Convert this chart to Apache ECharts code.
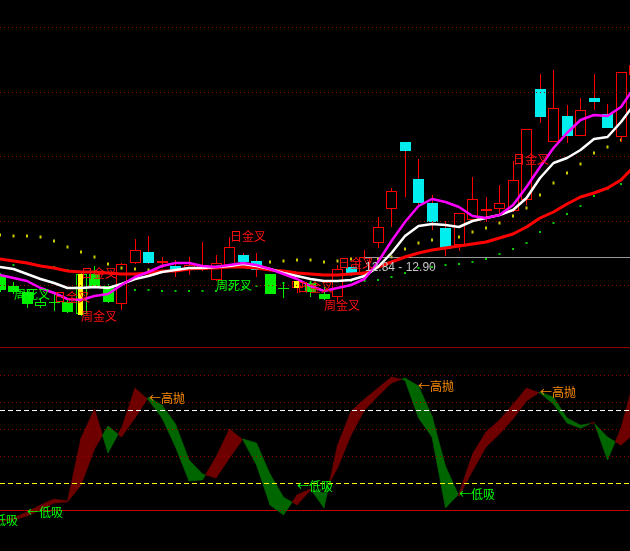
<!DOCTYPE html>
<html>
<head>
<meta charset="utf-8">
<title>K线 高抛低吸</title>
<script src="https://cdn.jsdelivr.net/npm/echarts@6.0.0/dist/echarts.min.js"></script>
<style>
  html, body { margin: 0; padding: 0; background: #000; }
  #chart { width: 630px; height: 551px; }
</style>
</head>
<body>
<div id="chart"></div>
<script>
// 交易日序号
const days = Array.from({ length: 48 }, (_, i) => String(i + 1));

// K线 [开, 收, 低, 高]
const kline = [
  [12.69, 12.54, 12.52, 12.71], [12.58, 12.52, 12.50, 12.62], [12.52, 12.40, 12.36, 12.55],
  [12.38, 12.42, 12.36, 12.46], [12.42, 12.41, 12.33, 12.51], [12.42, 12.32, 12.31, 12.46],
  [12.30, 12.70, 12.28, 12.72], [12.70, 12.58, 12.57, 12.78], [12.58, 12.42, 12.41, 12.60],
  [12.40, 12.80, 12.34, 12.81], [12.81, 12.94, 12.80, 13.05], [12.92, 12.81, 12.80, 13.08],
  [12.81, 12.83, 12.76, 12.87], [12.78, 12.74, 12.67, 12.84], [12.74, 12.79, 12.69, 12.87],
  [12.74, 12.79, 12.73, 13.02], [12.64, 12.81, 12.63, 12.89], [12.77, 12.97, 12.76, 13.07],
  [12.89, 12.82, 12.76, 12.91], [12.83, 12.74, 12.67, 12.91], [12.70, 12.50, 12.50, 12.70],
  [12.56, 12.55, 12.46, 12.62], [12.56, 12.63, 12.51, 12.63], [12.61, 12.52, 12.47, 12.63],
  [12.50, 12.45, 12.44, 12.57], [12.47, 12.75, 12.42, 12.79], [12.77, 12.70, 12.68, 12.79],
  [12.69, 12.87, 12.68, 12.94], [13.01, 13.17, 12.96, 13.27], [13.35, 13.53, 13.17, 13.56],
  [14.02, 13.93, 13.47, 14.02], [13.65, 13.41, 13.39, 13.85], [13.41, 13.22, 13.14, 13.49],
  [13.16, 12.95, 12.88, 13.23], [12.99, 13.31, 12.93, 13.31], [13.24, 13.45, 13.23, 13.67],
  [13.33, 13.35, 13.22, 13.47], [13.35, 13.41, 13.29, 13.59], [13.33, 13.64, 13.32, 13.83],
  [13.44, 14.15, 13.39, 14.15], [14.55, 14.27, 14.21, 14.70], [14.02, 14.36, 14.02, 14.74],
  [14.28, 14.08, 14.01, 14.39], [14.08, 14.34, 14.08, 14.46], [14.46, 14.42, 14.34, 14.70],
  [14.30, 14.16, 14.16, 14.40], [14.07, 14.72, 14.02, 14.72], [14.69, 14.79, 14.69, 14.79]
];

// 1 = 弱势, 绿色K线
const weakDays = [1, 1, 1, 1, 1, 1, 1, 1, 1, 0, 0, 0, 0, 0, 0, 0, 0, 0, 0, 0, 1, 1, 0, 1,
  1, 0, 0, 0, 0, 0, 0, 0, 0, 0, 0, 0, 0, 0, 0, 0, 0, 0, 0, 0, 0, 0, 0, 0];

// 黄色信号柱 [日序, 上, 下]
const yellowSticks = [[6, 12.70, 12.29], [22, 12.63, 12.56]];

const maRed = [12.85, 12.83, 12.81, 12.78, 12.76, 12.73, 12.72, 12.72, 12.71, 12.70, 12.70, 12.71,
  12.73, 12.73, 12.75, 12.76, 12.76, 12.77, 12.77, 12.76, 12.74, 12.73, 12.71, 12.70,
  12.69, 12.69, 12.70, 12.71, 12.77, 12.82, 12.87, 12.91, 12.94, 12.96, 12.98, 13.00,
  13.02, 13.06, 13.10, 13.17, 13.26, 13.32, 13.40, 13.47, 13.51, 13.56, 13.64, 13.78];
const maWhite = [12.77, 12.75, 12.70, 12.65, 12.61, 12.56, 12.56, 12.57, 12.56, 12.60, 12.65, 12.68,
  12.72, 12.74, 12.76, 12.76, 12.77, 12.78, 12.80, 12.78, 12.75, 12.71, 12.68, 12.65,
  12.63, 12.63, 12.64, 12.68, 12.77, 12.91, 13.08, 13.18, 13.20, 13.19, 13.17, 13.23,
  13.26, 13.29, 13.34, 13.46, 13.66, 13.81, 13.86, 13.94, 14.05, 14.07, 14.22, 14.40];
const maPink = [12.69, 12.66, 12.63, 12.56, 12.51, 12.45, 12.44, 12.48, 12.50, 12.59, 12.67, 12.72,
  12.78, 12.81, 12.81, 12.78, 12.77, 12.79, 12.81, 12.79, 12.75, 12.70, 12.65, 12.58,
  12.53, 12.56, 12.59, 12.65, 12.82, 13.03, 13.22, 13.38, 13.45, 13.42, 13.37, 13.28,
  13.26, 13.29, 13.39, 13.57, 13.77, 13.96, 14.11, 14.24, 14.29, 14.28, 14.37, 14.57];

// 点状压力/支撑
const dotYellow = [13.09, 13.08, 13.08, 13.07, 13.03, 12.97, 12.92, 12.87, 12.80, 12.76, 12.75, 12.74,
  null, null, null, null, null, null, null, null, 12.82, 12.83, 12.84, 12.84,
  12.82, 12.83, 12.85, null, 12.85, 12.87, 12.95, 13.01, 13.04, 13.06, 13.07, 13.12,
  13.16, 13.21, 13.28, 13.36, 13.49, 13.61, 13.71, 13.80, 13.91, 13.97, 14.04, null];
const dotGreen = [null, 12.79, null, 12.78, 12.77, 12.74, null, null, null, null, 12.54, 12.54,
  12.53, 12.53, 12.53, 12.53, 12.53, 12.55, 12.57, 12.58, 12.60, 12.61, 12.62, 12.62,
  12.62, 12.63, 12.63, 12.63, 12.64, 12.67, 12.71, 12.76, 12.77, 12.79, 12.80, 12.82,
  12.85, 12.90, 12.95, 13.01, 13.12, 13.21, 13.30, 13.38, 13.48, 13.55, 13.60, null];

const priceGrid = [15.17, 14.52, 13.88, 13.23, 12.59];
const priceNow = 12.87;
const priceNowFrom = 27;

// 副图 高抛低吸 两条线
const ribbonFast = [-3.8, -3.0, -0.8, 1.8, 4.0, 3.3, 26.6, 37.4, 21.1, 30.3, 45.2, 40.7,
  34.1, 23.3, 10.7, 11.1, 19.6, 30.0, 25.9, 16.6, 1.8, -1.9, 5.5, 7.7,
  0.7, 24.0, 36.6, 41.1, 45.2, 49.3, 48.1, 34.1, 27.0, 0.7, 5.9, 20.7,
  28.9, 33.3, 39.2, 45.2, 43.3, 39.2, 32.2, 30.3, 32.6, 18.5, 30.3, 48.9];
const ribbonSlow = [-4.2, -3.8, -2.3, -0.1, 2.5, 2.9, 9.2, 22.6, 31.1, 27.0, 34.1, 41.8,
  38.9, 31.8, 18.5, 13.3, 11.8, 19.2, 26.3, 24.8, 13.3, 4.7, 1.8, 7.3,
  6.2, 15.5, 27.7, 37.0, 42.2, 47.0, 48.9, 45.9, 34.8, 16.2, 5.1, 14.4,
  23.3, 28.1, 33.7, 40.4, 43.7, 41.8, 34.1, 31.4, 32.2, 27.0, 24.0, 28.4];

const subGrid = [0, 20, 30, 40, 50];
const highLine = 37;
const lowLine = 10;

// [文字, 日序, 数值, 颜色, 对齐]
const topNotes = [
  ['周死叉', 1, 12.50, 'g'],
  ['日金叉', 4, 12.47, 'r'],
  ['日金叉', 6, 12.71, 'r'],
  ['周金叉', 6, 12.28, 'r'],
  ['周死叉', 16, 12.59, 'g'],
  ['日金叉', 17, 13.08, 'r'],
  ['日金叉', 22, 12.57, 'r'],
  ['周金叉', 24, 12.39, 'r'],
  ['日金叉', 25, 12.81, 'r'],
  ['12.84 - 12.90', 27, 12.76, 'w'],
  ['日金叉', 38, 13.85, 'r']
];
const bottomNotes = [
  ['←低吸', 0, -3.8, 'g', 'center'],
  ['←低吸', 2, -0.8, 'g'],
  ['←高抛', 11, 41.5, 'o'],
  ['←低吸', 22, 8.8, 'g'],
  ['←高抛', 31, 45.9, 'o'],
  ['←低吸', 34, 5.9, 'g'],
  ['←高抛', 40, 43.7, 'o']
];

const RED = '#ff0000', CYAN = '#00eeee', GREEN = '#00f000';
const noteColor = { r: '#ff1010', g: '#00ff00', o: '#ff8c00', w: '#c4c4c4' };

// 像素对齐的小矩形
const px = (x, y, w, h, c) => ({ type: 'rect', shape: { x: x, y: y, width: w, height: h }, style: { fill: c } });

function drawCandle(params, api) {
  const day = api.value(0);
  const open = api.value(1), close = api.value(2), low = api.value(3), high = api.value(4);
  const up = close >= open;
  const weak = weakDays[day] === 1;
  const body = weak ? GREEN : (up ? RED : CYAN);
  const wick = weak ? GREEN : RED;
  const w = Math.round(api.size([1, 0])[0] * 0.8);
  const pO = api.coord([day, open]);
  const pC = api.coord([day, close]);
  const yH = Math.round(api.coord([day, high])[1]);
  const yL = Math.round(api.coord([day, low])[1]);
  const left = Math.round(pO[0] - w / 2);
  const mid = left + Math.floor(w / 2);
  const top = Math.round(Math.min(pO[1], pC[1]));
  const bot = Math.max(Math.round(Math.max(pO[1], pC[1])), top + 1);
  const kids = [];
  if (yH < top) kids.push(px(mid, yH, 1, top - yH, wick));
  if (yL > bot) kids.push(px(mid, bot, 1, yL - bot, wick));
  if (up) {
    kids.push(px(left, top, w, 1, body), px(left, bot - 1, w, 1, body),
      px(left, top, 1, bot - top, body), px(left + w - 1, top, 1, bot - top, body));
  } else {
    kids.push(px(left, top, w, bot - top, body));
  }
  return { type: 'group', children: kids };
}

function drawStick(params, api) {
  const day = api.value(0);
  const a = api.coord([day, api.value(1)]);
  const b = api.coord([day, api.value(2)]);
  return px(Math.round(a[0]) - 3, Math.round(a[1]), 5, Math.round(b[1] - a[1]), '#ffff00');
}

function drawRibbon(params, api) {
  const i = api.value(0);
  if (i >= ribbonFast.length - 1) return null;
  const a1 = api.coord([i, ribbonFast[i]]), b1 = api.coord([i, ribbonSlow[i]]);
  const a2 = api.coord([i + 1, ribbonFast[i + 1]]), b2 = api.coord([i + 1, ribbonSlow[i + 1]]);
  const d1 = ribbonFast[i] - ribbonSlow[i];
  const d2 = ribbonFast[i + 1] - ribbonSlow[i + 1];
  const col = d => (d >= 0 ? '#6e0000' : '#006600');
  const poly = (pts, c) => ({ type: 'polygon', shape: { points: pts }, style: { fill: c, stroke: c, lineWidth: 0.6 } });
  if (d1 * d2 >= 0) {
    return poly([a1, a2, b2, b1], col(d1 !== 0 ? d1 : d2));
  }
  const t = d1 / (d1 - d2);
  const m = [a1[0] + (a2[0] - a1[0]) * t, a1[1] + (a2[1] - a1[1]) * t];
  return { type: 'group', children: [poly([a1, m, b1], col(d1)), poly([m, a2, b2], col(d2))] };
}

function drawNotes(list) {
  return function (params, api) {
    const n = list[params.dataIndex];
    const p = api.coord([n[1], n[2]]);
    const latin = /^[0-9]/.test(n[0]);
    return {
      type: 'text', x: Math.round(p[0]), y: Math.round(p[1]),
      style: {
        text: n[0], fill: noteColor[n[3]],
        font: latin ? '12px "Liberation Sans", Arial' : '12px "Noto Sans CJK SC", sans-serif',
        align: n[4] || 'left', verticalAlign: 'middle',
        textAlign: n[4] || 'left', textVerticalAlign: 'middle'
      }
    };
  };
}

const pairs = arr => arr.map((v, i) => (v == null ? null : [i, v])).filter(Boolean);
const dotted = { color: '#990000', type: [1, 3], width: 1 };

const chart = echarts.init(document.getElementById('chart'));
chart.setOption({
  backgroundColor: '#000',
  animation: false,
  grid: [
    { left: 0, top: 0, width: 634.5, height: 347, outerBoundsMode: 'none' },
    { left: 0, top: 347, width: 634.5, height: 179, outerBoundsMode: 'none' }
  ],
  xAxis: [
    { type: 'category', gridIndex: 0, data: days, boundaryGap: false,
      axisLine: { show: true, lineStyle: { color: '#8c0000', width: 1 } },
      axisTick: { show: false }, axisLabel: { show: false }, splitLine: { show: false } },
    { type: 'category', gridIndex: 1, data: days, boundaryGap: false,
      axisLine: { show: true, lineStyle: { color: '#c80000', width: 1 } },
      axisTick: { show: false }, axisLabel: { show: false }, splitLine: { show: false } }
  ],
  yAxis: [
    { type: 'value', gridIndex: 0, min: 11.97, max: 15.44, show: false },
    { type: 'value', gridIndex: 1, min: -6, max: 60.4, show: false }
  ],
  series: [
    {
      name: 'levelsTop', type: 'line', xAxisIndex: 0, yAxisIndex: 0, data: maRed,
      symbol: 'none', lineStyle: { opacity: 0 }, silent: true, z: 1,
      markLine: {
        silent: true, symbol: ['none', 'none'], label: { show: false }, animation: false,
        data: priceGrid.map(v => ({ yAxis: v, lineStyle: dotted })).concat([[
          { coord: [days[priceNowFrom], priceNow], lineStyle: { color: '#9a9a9a', type: 'solid', width: 1 } },
          { coord: [days[days.length - 1], priceNow] }
        ]])
      }
    },
    {
      name: 'yellowDots', type: 'scatter', xAxisIndex: 0, yAxisIndex: 0, data: pairs(dotYellow),
      symbol: 'rect', symbolSize: [2, 3], itemStyle: { color: '#ffff00' }, silent: true, z: 2
    },
    {
      name: 'greenDots', type: 'scatter', xAxisIndex: 0, yAxisIndex: 0, data: pairs(dotGreen),
      symbol: 'rect', symbolSize: [2, 2], itemStyle: { color: '#00ff00' }, silent: true, z: 2
    },
    {
      name: 'kline', type: 'custom', xAxisIndex: 0, yAxisIndex: 0, renderItem: drawCandle,
      data: kline.map((k, i) => [i].concat(k)), encode: { x: 0, y: [1, 2, 3, 4] }, silent: true, z: 3
    },
    {
      name: 'sticks', type: 'custom', xAxisIndex: 0, yAxisIndex: 0, renderItem: drawStick,
      data: yellowSticks, encode: { x: 0, y: [1, 2] }, silent: true, z: 4
    },
    { name: 'MA红', type: 'line', data: maRed, symbol: 'none', silent: true, z: 5,
      lineStyle: { color: RED, width: 3 } },
    { name: 'MA白', type: 'line', data: maWhite, symbol: 'none', silent: true, z: 5,
      lineStyle: { color: '#ffffff', width: 2.5 } },
    { name: 'MA紫', type: 'line', data: maPink, symbol: 'none', silent: true, z: 5,
      lineStyle: { color: '#ff00ff', width: 2.5 } },
    {
      name: 'notesTop', type: 'custom', xAxisIndex: 0, yAxisIndex: 0, renderItem: drawNotes(topNotes),
      data: topNotes.map(n => [n[1], n[2]]), silent: true, z: 10
    },
    {
      name: 'levelsBottom', type: 'line', xAxisIndex: 1, yAxisIndex: 1, data: ribbonSlow,
      symbol: 'none', lineStyle: { opacity: 0 }, silent: true, z: 1,
      markLine: {
        silent: true, symbol: ['none', 'none'], label: { show: false }, animation: false,
        data: subGrid.map(v => ({ yAxis: v, lineStyle: dotted })).concat([
          { yAxis: highLine, lineStyle: { color: '#ffffff', type: [5, 3], width: 1 } },
          { yAxis: lowLine, lineStyle: { color: '#ffff00', type: [5, 3], width: 1 } }
        ])
      }
    },
    {
      name: 'ribbon', type: 'custom', xAxisIndex: 1, yAxisIndex: 1, renderItem: drawRibbon,
      data: ribbonFast.map((v, i) => [i, v, ribbonSlow[i]]), encode: { x: 0, y: [1, 2] }, silent: true, z: 3
    },
    {
      name: 'notesBottom', type: 'custom', xAxisIndex: 1, yAxisIndex: 1, renderItem: drawNotes(bottomNotes),
      data: bottomNotes.map(n => [n[1], n[2]]), silent: true, z: 10
    }
  ]
});
</script>
</body>
</html>
